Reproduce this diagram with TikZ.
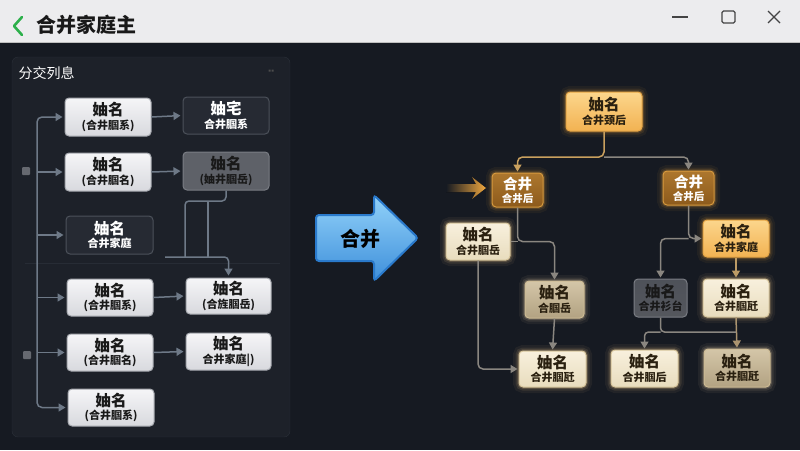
\documentclass[tikz,border=0pt]{standalone}
\usepackage{fontspec}
\setmainfont{Noto Sans CJK SC}
\usetikzlibrary{arrows.meta,calc}
\definecolor{bgc}{HTML}{161A22}
\definecolor{titlebg}{HTML}{ECECEE}
\definecolor{panelc}{HTML}{1D2129}
\definecolor{panelbd}{HTML}{2B3039}
\definecolor{faintl}{HTML}{272C35}
\definecolor{llinec}{HTML}{6E7987}
\definecolor{lightA}{HTML}{F5F5F7}
\definecolor{lightB}{HTML}{D8D9DE}
\definecolor{lightbd}{HTML}{A5A8AE}
\definecolor{darkboxc}{HTML}{262A33}
\definecolor{darkbd}{HTML}{4C515A}
\definecolor{grayboxc}{HTML}{5E6168}
\definecolor{grayboxbd}{HTML}{7A7D84}
\definecolor{goldline}{HTML}{C9A05E}
\definecolor{grayline}{HTML}{8A8680}
\definecolor{orA}{HTML}{FCD68C}
\definecolor{orB}{HTML}{F2B252}
\definecolor{orbd}{HTML}{E5A545}
\definecolor{brA}{HTML}{AD772E}
\definecolor{brB}{HTML}{8C5A1C}
\definecolor{brbd}{HTML}{D79A3E}
\definecolor{creamA}{HTML}{F8F0DD}
\definecolor{creamB}{HTML}{E8DCBD}
\definecolor{creambd}{HTML}{D6C49A}
\definecolor{tanA}{HTML}{D4C6A8}
\definecolor{tanB}{HTML}{B2A282}
\definecolor{tanbd}{HTML}{CDBB94}
\definecolor{glowc}{HTML}{F0A840}
\definecolor{blueA}{HTML}{92D2FA}
\definecolor{blueB}{HTML}{3E8FDA}
\definecolor{bluebd}{HTML}{2A7ACC}
\definecolor{greenc}{HTML}{2DB04B}
\definecolor{ctrlc}{HTML}{444444}
\definecolor{darktxt}{HTML}{2A2010}
\newcommand\tl[2]{{\fontsize{15.5}{17}\selectfont\bfseries #1}\\[1.5pt]{\fontsize{11}{12}\selectfont\bfseries #2}}
\newcommand\ts[2]{{\fontsize{14.5}{16}\selectfont\bfseries #1}\\[1pt]{\fontsize{10.5}{11}\selectfont\bfseries #2}}
\begin{document}
\begin{tikzpicture}[x=1pt,y=-1pt,
  base/.style={rounded corners=4pt, align=center, inner sep=0pt, line width=1pt},
  lbox/.style={base, top color=lightA, bottom color=lightB, draw=lightbd, text=black!90},
  dbox/.style={base, fill=darkboxc, draw=darkbd, text=white},
  gbox/.style={base, fill=grayboxc, draw=grayboxbd, text=black!90},
  glow/.style={preaction={draw=#1, line width=12pt, opacity=0.06},
               preaction={draw=#1, line width=7pt, opacity=0.1},
               preaction={draw=#1, line width=3.5pt, opacity=0.18}},
  obox/.style={base, top color=orA, bottom color=orB, draw=orbd, text=darktxt, glow=glowc},
  bbox/.style={base, top color=brA, bottom color=brB, draw=brbd, text=white, glow=glowc},
  cbox/.style={base, top color=creamA, bottom color=creamB, draw=creambd, text=darktxt, glow=glowc!60},
  tbox/.style={base, top color=tanA, bottom color=tanB, draw=tanbd, text=darktxt, glow=glowc!40},
  dgbox/.style={base, top color=grayboxc!110, bottom color=grayboxc!90!black, draw=grayboxbd, text=black!90},
  larr/.style={draw=llinec, line width=1.5pt, -{Triangle[length=7pt,width=8pt]}, shorten >=2pt},
  lline/.style={draw=llinec, line width=1.5pt},
  garr/.style={draw=grayline, line width=1.5pt, -{Triangle[length=7pt,width=8pt]}, shorten >=1pt},
  gline/.style={draw=grayline, line width=1.5pt},
  goarr/.style={draw=goldline, line width=1.5pt, -{Triangle[length=7pt,width=8pt]}, shorten >=1pt},
  ctrl/.style={draw=ctrlc, line width=1.3pt},
  sq/.style={fill=grayboxc!95!white, rounded corners=1pt, minimum size=8pt, inner sep=0pt}
]
\useasboundingbox (0,0) rectangle (800,450);
\fill[bgc] (0,0) rectangle (800,450);
% title bar
\fill[titlebg] (0,0) rectangle (800,42);
\draw[gray!50] (0,42) -- (800,42);
\draw[greenc, line width=2.6pt, line cap=round, line join=round] (22,17) -- (14,26) -- (22,35);
\node[anchor=west, font=\fontsize{20}{22}\selectfont\bfseries, text=black!90] (title) at (33,25) {合并家庭主};
\draw[ctrl] (672,17) -- (688,17);
\draw[ctrl, rounded corners=1.5pt] (722,11) rectangle (735,23);
\draw[ctrl] (768,11) -- (780,23) (780,11) -- (768,23);
% left panel
\draw[fill=panelc, draw=panelbd, rounded corners=6pt] (12,57) rectangle (290,437);
\node[anchor=west, text=white!90, font=\fontsize{14}{16}\selectfont] (hd) at (15,73) {分交列息};
\fill[gray!60!black] (268.5,69.5) rectangle (270.5,71.5) (271.5,69.5) rectangle (273.5,71.5);
\draw[faintl, line width=0.8pt] (25,263) -- (280,263);
% left nodes
\node[lbox, minimum width=86pt, minimum height=38pt] (l1) at (108,117) {\tl{妯名}{(合井腘系)}};
\node[dbox, minimum width=86pt, minimum height=37pt] (r1) at (226,115.5) {\tl{妯宅}{合井腘系}};
\node[lbox, minimum width=86pt, minimum height=38pt] (l2) at (108,172) {\tl{妯名}{(合井腘名)}};
\node[gbox, minimum width=86pt, minimum height=38pt] (r2) at (226,171) {\tl{妯名}{(妯井腘岳)}};
\node[dbox, minimum width=87pt, minimum height=38pt] (l3) at (109.5,235) {\tl{妯名}{合井家庭}};
\node[lbox, minimum width=86pt, minimum height=37pt] (l4) at (110,297.5) {\tl{妯名}{(合井腘系)}};
\node[lbox, minimum width=85pt, minimum height=36pt] (r3) at (228.5,296) {\tl{妯名}{(合旌腘岳)}};
\node[lbox, minimum width=86pt, minimum height=37pt] (l5) at (110,352.5) {\tl{妯名}{(合井腘名)}};
\node[lbox, minimum width=85pt, minimum height=37pt] (r4) at (228.5,351.5) {\tl{妯名}{合井家庭|)}};
\node[lbox, minimum width=86pt, minimum height=37pt] (l6) at (111,407.5) {\tl{妯名}{(合井腘系)}};
\node[sq] (s1) at (26,171) {};
\node[sq] (s2) at (27,355) {};
% left connectors
\coordinate (tr) at (37,0);
\draw[larr, rounded corners=5pt] (tr |- l3.west) -- (tr |- l1.west) -- (l1.west);
\draw[larr, rounded corners=5pt] (tr |- l3.west) -- (tr |- l6.west) -- (l6.west);
\draw[larr] (tr |- l2.west) -- (l2.west);
\draw[larr] (tr |- l3.west) -- (l3.west);
\draw[larr] (tr |- l4.west) -- (l4.west);
\draw[larr] (tr |- l5.west) -- (l5.west);
\draw[larr] (l1.east) -- (r1.west);
\draw[larr] (l2.east) -- (r2.west);
\draw[larr] (l4.east) -- (r3.west);
\draw[larr] (l5.east) -- (r4.west);
\coordinate (j1) at (185,201);
\coordinate (j2) at (208,201);
\coordinate (j3) at (165,257);
\draw[lline, rounded corners=4pt] (r2.south) -- (r2.south |- j1) -- (j1) -- (j1 |- j3);
\draw[lline] (j2) -- (j2 |- j3);
\draw[larr, rounded corners=4pt] (j3) -- (r3.north |- j3) -- (r3.north);
% big blue arrow
\draw[draw=bluebd, line width=2pt, rounded corners=3pt, top color=blueA, bottom color=blueB]
  (316,215) -- (374,215) -- (374,195) -- (418,238) -- (374,281) -- (374,261) -- (316,261) -- cycle;
\node[font=\fontsize{20}{22}\selectfont\bfseries, text=black] (mergelbl) at (360,239) {合并};
% small orange arrow
\fill[left color=bgc, right color=glowc] (446,184) -- (476,184) -- (472,177) -- (486,188) -- (472,199) -- (476,192) -- (446,192) -- cycle;
% right tree
\node[obox, minimum width=76pt, minimum height=39pt] (top) at (604,111.5) {\tl{妯名}{合井颈后}};
\node[bbox, minimum width=51pt, minimum height=34pt] (m1) at (517.5,190) {\ts{合井}{合井后}};
\node[bbox, minimum width=51pt, minimum height=34pt] (m2) at (688.5,188) {\ts{合井}{合井后}};
\node[cbox, minimum width=64pt, minimum height=37pt] (A) at (478,241.5) {\tl{妯名}{合井腘岳}};
\node[tbox, minimum width=59pt, minimum height=37pt] (B) at (554.5,299.5) {\tl{妯名}{合腘岳}};
\node[cbox, minimum width=67pt, minimum height=36pt] (C) at (552.5,369) {\tl{妯名}{合井腘瓩}};
\node[dgbox, minimum width=53pt, minimum height=38pt] (D) at (660.5,298) {\tl{妯名}{合井衫台}};
\node[obox, minimum width=66pt, minimum height=37pt] (E) at (736,238.5) {\tl{妯名}{合井家庭}};
\node[cbox, minimum width=66pt, minimum height=38pt] (F) at (736,298) {\tl{妯名}{合井腘瓩}};
\node[cbox, minimum width=67pt, minimum height=37pt] (G) at (644.5,368.5) {\tl{妯名}{合井腘后}};
\node[tbox, minimum width=66pt, minimum height=38pt] (H) at (737,368) {\tl{妯名}{合井腘瓩}};
% right connectors
\coordinate (tj) at (0,157);
\draw[goarr, rounded corners=5pt] (top.south) -- (top.south |- tj) -- (m1.north |- tj) -- (m1.north);
\draw[garr, rounded corners=5pt] (top.south |- tj) -- (m2.north |- tj) -- (m2.north);
\draw[gline] (A.east) -- (m1.south |- A.east);
\draw[garr, rounded corners=5pt] (m1.south) -- (m1.south |- A.east) -- (B.north |- A.east) -- (B.north);
\draw[garr, rounded corners=5pt] (A.south) -- (A.south |- C.west) -- (C.west);
\draw[garr] (B.south) -- (C.north);
\draw[garr, rounded corners=5pt] (m2.south) -- (m2.south |- E.west) -- (E.west);
\draw[garr, rounded corners=5pt] (m2.south |- E.west) -- (D.north |- E.west) -- (D.north);
\draw[goarr, draw=goldline!80!grayline] (E.south) -- (F.north);
\draw[goarr, draw=goldline!50!grayline] (F.south) -- (H.north);
\coordinate (dj) at (0,332);
\draw[gline, rounded corners=4pt] (D.south) -- (D.south |- dj) -- (F.south |- dj);
\draw[garr, rounded corners=4pt] (D.south |- dj) -- (G.north |- dj) -- (G.north);
\end{tikzpicture}
\end{document}
